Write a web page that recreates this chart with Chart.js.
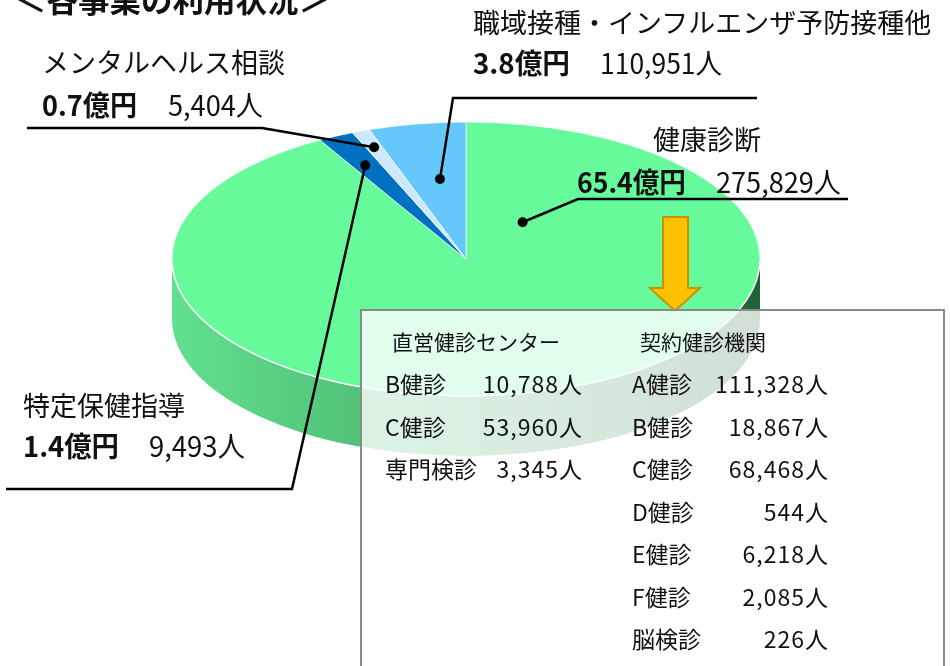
<!DOCTYPE html>
<html>
<head>
<meta charset="utf-8">
<script src="https://cdn.jsdelivr.net/npm/chart.js@4.4.1/dist/chart.umd.min.js"></script>
<style>
  body { margin: 0; background: #fff; }
  #wrap { position: relative; width: 950px; height: 666px; overflow: hidden; font-family: 'Noto Sans CJK JP', 'Noto Sans', sans-serif; color: #111; }
  #c { position: absolute; left: 0; top: 0; }
  .t { position: absolute; white-space: nowrap; }
  #box { position: absolute; left: 360px; top: 309px; width: 581px; height: 400px; border: 2px solid #8a8a8a; background: rgba(255,255,255,0.8); }
</style>
</head>
<body>
<div id="wrap">
  <canvas id="c" width="950" height="666"></canvas>
  <div id="box"></div>
  <div id="txt"></div>
</div>
<script>
// 各事業（億円・人）
const categories = ['健康診断', '特定保健指導', 'メンタルヘルス相談', '職域接種・インフルエンザ予防接種他'];
const costs = [65.4, 1.4, 0.7, 3.8];
const people = [275829, 9493, 5404, 110951];
const colors = ['#66fa9a', '#0070c0', '#cce8fa', '#66c8fa'];

// 健診の内訳
const directLabels = ['B健診', 'C健診', '専門検診'];
const directCounts = [10788, 53960, 3345];
const contractLabels = ['A健診', 'B健診', 'C健診', 'D健診', 'E健診', 'F健診', '脳検診'];
const contractCounts = [111328, 18867, 68468, 544, 6218, 2085, 226];

// 楕円の位置（見た目）
const CX = 466, CY = 259, RX = 294, RY = 137, T = 60;

// ラベルの位置: 名前, 金額, 人数, 引き出し線
const labelPos = [
  { name: [653, 140], val: 183, cost: [577, 109], ppl: [716, 125], line: [[578, 199], [848, 199]], anchor: [0.108, 0.33] },
  { name: [23, 406], val: 447, cost: [23, 96], ppl: [149, 96], line: [[292, 489], [6, 489]], anchor: [0.45, 0.765] },
  { name: [42, 63], val: 106, cost: [42, 95], ppl: [168, 95], line: [[262, 128], [27, 128]], anchor: [0.5, 0.874] },
  { name: [473, 23], val: 64, cost: [473, 97], ppl: [600, 122], line: [[453, 98], [757, 98]], anchor: [0.55, 0.59] }
];

const fmt = n => n.toLocaleString('en-US');

function shade(hex, k) {
  const n = parseInt(hex.slice(1), 16);
  const r = Math.round(((n >> 16) & 255) * k), g = Math.round(((n >> 8) & 255) * k), b = Math.round((n & 255) * k);
  return `rgb(${r},${g},${b})`;
}

// 立体っぽく見せるプラグイン
const pie3d = {
  id: 'pie3d',
  beforeDatasetsDraw(chart) {
    const ctx = chart.ctx;
    const meta = chart.getDatasetMeta(0);
    const a = meta.data[0];
    const r = a.outerRadius;
    // 側面
    meta.data.forEach((arc, i) => {
      const lo = Math.max(arc.startAngle, 0), hi = Math.min(arc.endAngle, Math.PI);
      if (lo >= hi) return;
      let fill = shade(colors[i], 0.75);
      if (i === 0) {
        fill = ctx.createLinearGradient(CX - RX, 0, CX + RX, 0);
        fill.addColorStop(0, 'rgb(98,224,144)');
        fill.addColorStop(0.5, 'rgb(72,176,106)');
        fill.addColorStop(1, 'rgb(30,96,56)');
      }
      ctx.beginPath();
      ctx.ellipse(CX, CY, RX, RY, 0, lo, hi);
      ctx.ellipse(CX, CY + T, RX, RY, 0, hi, lo, true);
      ctx.closePath();
      ctx.fillStyle = fill;
      ctx.fill();
    });
    ctx.save();
    ctx.translate(CX, CY);
    ctx.scale(RX / r, RY / r);
    ctx.translate(-a.x, -a.y);
  },
  afterDatasetsDraw(chart) {
    const ctx = chart.ctx;
    ctx.restore();
    ctx.beginPath();
    ctx.ellipse(CX, CY, RX, RY, 0, 0.02, Math.PI - 0.02);
    ctx.strokeStyle = 'rgba(255,255,255,0.9)';
    ctx.lineWidth = 1.5;
    ctx.stroke();
  }
};

// 引き出し線と矢印
const annot = {
  id: 'annot',
  afterDraw(chart) {
    const ctx = chart.ctx;
    const meta = chart.getDatasetMeta(0);
    meta.data.forEach((arc, i) => {
      const p = labelPos[i];
      const ang = arc.startAngle + (arc.endAngle - arc.startAngle) * p.anchor[0];
      const x = CX + RX * p.anchor[1] * Math.cos(ang);
      const y = CY + RY * p.anchor[1] * Math.sin(ang);
      ctx.beginPath();
      ctx.moveTo(x, y);
      p.line.forEach(q => ctx.lineTo(q[0], q[1]));
      ctx.strokeStyle = '#000';
      ctx.lineWidth = 2.5;
      ctx.lineJoin = 'miter';
      ctx.stroke();
      ctx.beginPath();
      ctx.arc(x, y, 5, 0, Math.PI * 2);
      ctx.fillStyle = '#000';
      ctx.fill();
    });
    // 矢印
    ctx.beginPath();
    ctx.moveTo(663, 217); ctx.lineTo(688, 217); ctx.lineTo(688, 288); ctx.lineTo(700, 288);
    ctx.lineTo(675, 311); ctx.lineTo(650, 288); ctx.lineTo(663, 288); ctx.closePath();
    ctx.fillStyle = '#ffc000';
    ctx.fill();
    ctx.strokeStyle = '#c49500';
    ctx.lineWidth = 2;
    ctx.stroke();
  }
};

new Chart(document.getElementById('c'), {
  type: 'pie',
  data: {
    labels: categories,
    datasets: [{
      data: costs,
      backgroundColor: colors,
      borderColor: '#ffffff',
      borderWidth: 1,
      clip: false
    }]
  },
  options: {
    responsive: false,
    animation: false,
    events: [],
    layout: { padding: 0 },
    plugins: { legend: { display: false }, tooltip: { enabled: false } }
  },
  plugins: [pie3d, annot]
});

// テキスト
const txt = document.getElementById('txt');
function put(text, x, yc, size, opts = {}) {
  const el = document.createElement('div');
  el.className = 't';
  el.textContent = text;
  el.style.fontSize = size + 'px';
  el.style.lineHeight = size + 'px';
  el.style.top = (yc - size * 0.556) + 'px';
  if (opts.bold) el.style.fontWeight = '700';
  if (opts.ls) el.style.letterSpacing = opts.ls + 'px';
  if (opts.right) { el.style.right = (950 - x) + 'px'; } else { el.style.left = x + 'px'; }
  txt.appendChild(el);
  if (opts.w) {
    const w = el.getBoundingClientRect().width;
    el.style.transformOrigin = opts.right ? 'right center' : 'left center';
    el.style.transform = `scaleX(${opts.w / w})`;
  }
  return el;
}

put('＜各事業の利用状況＞', 15, 0, 31.5, { bold: true });

categories.forEach((name, i) => {
  const p = labelPos[i];
  put(name, p.name[0], p.name[1], 27);
  put(costs[i].toFixed(1) + '億円', p.cost[0], p.val, 28, { bold: true, w: p.cost[1] });
  put(fmt(people[i]) + '人', p.ppl[0], p.val, 28, { w: p.ppl[1] });
});

// 内訳表
put('直営健診センター', 392, 343, 21);
put('契約健診機関', 640, 343, 21);
const rowY = 385, rowH = 42.5;
directLabels.forEach((l, i) => {
  put(l, 385, rowY + i * rowH, 23);
  put(fmt(directCounts[i]) + '人', 583, rowY + i * rowH, 23, { right: true, ls: 1 });
});
contractLabels.forEach((l, i) => {
  put(l, 632, rowY + i * rowH, 23);
  put(fmt(contractCounts[i]) + '人', 829, rowY + i * rowH, 23, { right: true, ls: 1 });
});
</script>
</body>
</html>
